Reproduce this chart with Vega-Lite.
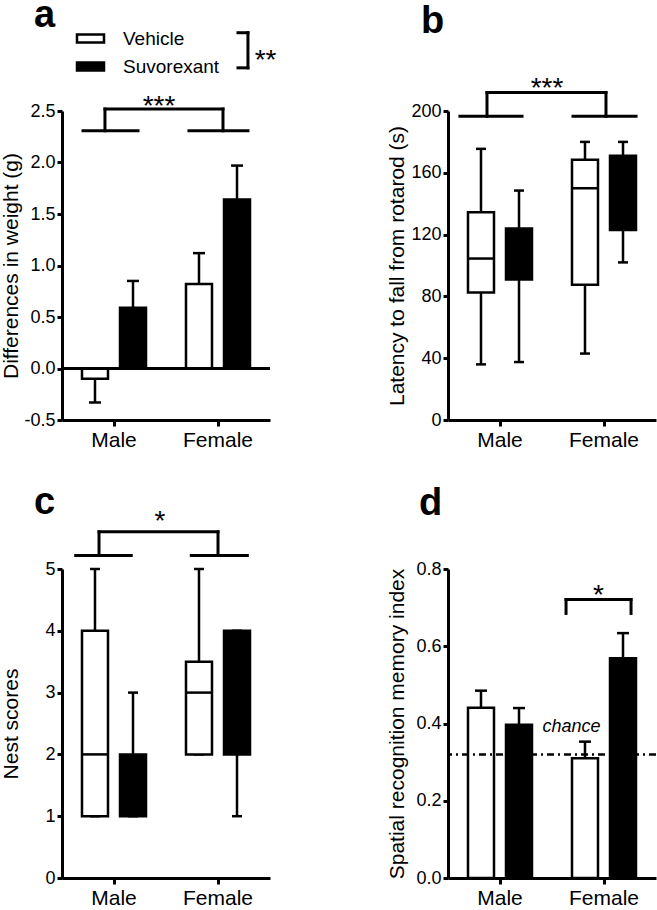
{
 "$schema": "https://vega.github.io/schema/vega-lite/v6.json",
 "autosize": {"type": "pad"},
 "padding": {"top": -3, "left": 0, "right": 0, "bottom": 0},
 "background": "white",
 "columns": 2,
 "bounds": "flush",
 "spacing": {"row": 149, "column": 178},
 "resolve": {"scale": {"fill": "independent"}, "legend": {"fill": "independent"}},
 "config": {
  "view": {"stroke": null},
  "font": "Liberation Sans",
  "axis": {"domainColor": "black", "domainWidth": 3, "tickColor": "black", "tickWidth": 3, "labelColor": "black", "titleColor": "black", "grid": false, "labelFont": "Liberation Sans", "titleFont": "Liberation Sans", "titleFontWeight": "normal", "titleFontSize": 21},
  "axisY": {"labelFontSize": 18, "tickSize": 5, "labelPadding": 2},
  "axisX": {"labelFontSize": 21, "tickSize": 6, "labelPadding": 3, "labelAngle": 0},
  "text": {"font": "Liberation Sans", "color": "black"},
  "rule": {"color": "black"},
  "tick": {"color": "black", "opacity": 1},
  "bar": {"opacity": 1}
 },
 "concat": [
  {
   "width": 208, "height": 309,
   "resolve": {"scale": {"x": "independent"}, "axis": {"x": "independent"}},
   "layer": [
    {
     "data": {"values": [
      {"sex": "Male", "treatment": "Vehicle", "mean": -0.1, "errorEnd": -0.33},
      {"sex": "Male", "treatment": "Suvorexant", "mean": 0.59, "errorEnd": 0.85},
      {"sex": "Female", "treatment": "Vehicle", "mean": 0.82, "errorEnd": 1.12},
      {"sex": "Female", "treatment": "Suvorexant", "mean": 1.64, "errorEnd": 1.97}
     ]},
     "layer": [
      {"mark": {"type": "rule", "strokeWidth": 2.5},
       "encoding": {
        "x": {"field": "sex", "type": "nominal", "sort": ["Male", "Female"], "scale": {"paddingInner": 0, "paddingOuter": 0}, "axis": {"title": null}},
        "xOffset": {"field": "treatment", "type": "nominal", "sort": ["Vehicle", "Suvorexant"], "scale": {"paddingInner": 0.316, "paddingOuter": 0.526}},
        "y": {"field": "mean", "type": "quantitative", "scale": {"domain": [-0.5, 2.5], "nice": false, "zero": false},
              "axis": {"title": "Differences in weight (g)", "values": [-0.5, 0, 0.5, 1, 1.5, 2, 2.5], "labelExpr": "replace(format(datum.value,'.1f'),'−','-')", "titleX": -45, "titleY": 154.5, "titleBaseline": "alphabetic", "titleAngle": 270}},
        "y2": {"field": "errorEnd"}
       }},
      {"mark": {"type": "bar", "stroke": "black", "strokeWidth": 2.5},
       "encoding": {
        "x": {"field": "sex", "type": "nominal", "sort": ["Male", "Female"], "scale": {"paddingInner": 0, "paddingOuter": 0}, "axis": {"title": null}},
        "xOffset": {"field": "treatment", "type": "nominal", "sort": ["Vehicle", "Suvorexant"], "scale": {"paddingInner": 0.316, "paddingOuter": 0.526}},
        "y": {"field": "mean", "type": "quantitative"},
        "fill": {"field": "treatment", "type": "nominal", "scale": {"domain": ["Vehicle", "Suvorexant"], "range": ["white", "black"]},
                 "legend": {"orient": "none", "legendX": 17, "legendY": -84, "title": null, "labelFontSize": 19, "labelColor": "black", "labelFont": "Liberation Sans", "symbolType": "M-1.35,-0.4H1.35V0.4H-1.35Z", "symbolSize": 400, "symbolStrokeColor": "black", "symbolStrokeWidth": 2.5, "rowPadding": 6, "labelOffset": 21, "padding": 0}}
       }},
      {"mark": {"type": "tick", "size": 12, "thickness": 2.5},
       "encoding": {
        "x": {"field": "sex", "type": "nominal", "sort": ["Male", "Female"], "scale": {"paddingInner": 0, "paddingOuter": 0}, "axis": {"title": null}},
        "xOffset": {"field": "treatment", "type": "nominal", "sort": ["Vehicle", "Suvorexant"], "scale": {"paddingInner": 0.316, "paddingOuter": 0.526}},
        "y": {"field": "errorEnd", "type": "quantitative"}
       }}
     ]
    },
    {"data": {"values": [{}]}, "mark": {"type": "rule", "strokeWidth": 3}, "encoding": {"y": {"datum": 0}}},
    {
     "data": {"values": [
      {"kind": "line", "x": 0.702, "x2": 1.231, "y": 2.308, "y2": 2.308},
      {"kind": "line", "x": 1.721, "x2": 2.288, "y": 2.308, "y2": 2.308},
      {"kind": "line", "x": 0.913, "x2": 2.048, "y": 2.519, "y2": 2.519},
      {"kind": "line", "x": 0.913, "x2": 0.913, "y": 2.308, "y2": 2.519},
      {"kind": "line", "x": 2.048, "x2": 2.048, "y": 2.308, "y2": 2.519},
      {"kind": "line", "x": 2.192, "x2": 2.288, "y": 3.26, "y2": 3.26},
      {"kind": "line", "x": 2.192, "x2": 2.288, "y": 2.919, "y2": 2.919},
      {"kind": "line", "x": 2.288, "x2": 2.288, "y": 2.919, "y2": 3.26},
      {"kind": "letter", "x": 0.23, "y": 3.313, "label": "a"},
      {"kind": "sig", "x": 1.433, "y": 2.461, "label": "***"},
      {"kind": "sig", "x": 2.457, "y": 2.909, "label": "**"}
     ]},
     "layer": [
      {"transform": [{"filter": "datum.kind === 'line'"}],
       "mark": {"type": "rule", "strokeWidth": 3, "strokeCap": "square"},
       "encoding": {
        "x": {"field": "x", "type": "quantitative", "scale": {"domain": [0.5, 2.5], "nice": false, "zero": false}, "axis": null},
        "x2": {"field": "x2"},
        "y": {"field": "y", "type": "quantitative"},
        "y2": {"field": "y2"}
       }},
      {"transform": [{"filter": "datum.kind === 'letter'"}],
       "mark": {"type": "text", "fontSize": 38, "fontWeight": "bold", "align": "left", "baseline": "alphabetic"},
       "encoding": {
        "x": {"field": "x", "type": "quantitative", "scale": {"domain": [0.5, 2.5], "nice": false, "zero": false}, "axis": null},
        "y": {"field": "y", "type": "quantitative"},
        "text": {"field": "label"}
       }},
      {"transform": [{"filter": "datum.kind === 'sig'"}],
       "mark": {"type": "text", "fontSize": 28, "align": "center", "baseline": "alphabetic"},
       "encoding": {
        "x": {"field": "x", "type": "quantitative", "scale": {"domain": [0.5, 2.5], "nice": false, "zero": false}, "axis": null},
        "y": {"field": "y", "type": "quantitative"},
        "text": {"field": "label"}
       }}
     ]
    }
   ]
  },
  {
   "width": 208, "height": 309,
   "resolve": {"scale": {"x": "independent"}, "axis": {"x": "independent"}},
   "layer": [
    {
     "data": {"values": [
      {"sex": "Male", "treatment": "Vehicle", "min": 36, "q1": 82.5, "median": 104.5, "q3": 134.5, "max": 175.5},
      {"sex": "Male", "treatment": "Suvorexant", "min": 37.5, "q1": 91, "median": null, "q3": 124, "max": 148.5},
      {"sex": "Female", "treatment": "Vehicle", "min": 43, "q1": 87.5, "median": 150, "q3": 168.5, "max": 180},
      {"sex": "Female", "treatment": "Suvorexant", "min": 102, "q1": 123, "median": null, "q3": 171, "max": 180}
     ]},
     "layer": [
      {"mark": {"type": "rule", "strokeWidth": 2.5},
       "encoding": {
        "x": {"field": "sex", "type": "nominal", "sort": ["Male", "Female"], "scale": {"paddingInner": 0, "paddingOuter": 0}, "axis": {"title": null}},
        "xOffset": {"field": "treatment", "type": "nominal", "sort": ["Vehicle", "Suvorexant"], "scale": {"paddingInner": 0.316, "paddingOuter": 0.526}},
        "y": {"field": "min", "type": "quantitative", "scale": {"domain": [0, 200], "nice": false, "zero": false},
              "axis": {"title": "Latency to fall from rotarod (s)", "values": [0, 40, 80, 120, 160, 200], "format": "d", "titleX": -45, "titleY": 154.5, "titleBaseline": "alphabetic", "titleAngle": 270}},
        "y2": {"field": "q1"}
       }},
      {"mark": {"type": "rule", "strokeWidth": 2.5},
       "encoding": {
        "x": {"field": "sex", "type": "nominal", "sort": ["Male", "Female"], "scale": {"paddingInner": 0, "paddingOuter": 0}, "axis": {"title": null}},
        "xOffset": {"field": "treatment", "type": "nominal", "sort": ["Vehicle", "Suvorexant"], "scale": {"paddingInner": 0.316, "paddingOuter": 0.526}},
        "y": {"field": "q3", "type": "quantitative"},
        "y2": {"field": "max"}
       }},
      {"mark": {"type": "tick", "size": 10, "thickness": 2.5},
       "encoding": {
        "x": {"field": "sex", "type": "nominal", "sort": ["Male", "Female"], "scale": {"paddingInner": 0, "paddingOuter": 0}, "axis": {"title": null}},
        "xOffset": {"field": "treatment", "type": "nominal", "sort": ["Vehicle", "Suvorexant"], "scale": {"paddingInner": 0.316, "paddingOuter": 0.526}},
        "y": {"field": "min", "type": "quantitative"}
       }},
      {"mark": {"type": "tick", "size": 10, "thickness": 2.5},
       "encoding": {
        "x": {"field": "sex", "type": "nominal", "sort": ["Male", "Female"], "scale": {"paddingInner": 0, "paddingOuter": 0}, "axis": {"title": null}},
        "xOffset": {"field": "treatment", "type": "nominal", "sort": ["Vehicle", "Suvorexant"], "scale": {"paddingInner": 0.316, "paddingOuter": 0.526}},
        "y": {"field": "max", "type": "quantitative"}
       }},
      {"mark": {"type": "bar", "stroke": "black", "strokeWidth": 2.5},
       "encoding": {
        "x": {"field": "sex", "type": "nominal", "sort": ["Male", "Female"], "scale": {"paddingInner": 0, "paddingOuter": 0}, "axis": {"title": null}},
        "xOffset": {"field": "treatment", "type": "nominal", "sort": ["Vehicle", "Suvorexant"], "scale": {"paddingInner": 0.316, "paddingOuter": 0.526}},
        "y": {"field": "q1", "type": "quantitative"},
        "y2": {"field": "q3"},
        "fill": {"field": "treatment", "type": "nominal", "scale": {"domain": ["Vehicle", "Suvorexant"], "range": ["white", "black"]}, "legend": null}
       }},
      {"mark": {"type": "tick", "size": 26, "thickness": 2.5},
       "encoding": {
        "x": {"field": "sex", "type": "nominal", "sort": ["Male", "Female"], "scale": {"paddingInner": 0, "paddingOuter": 0}, "axis": {"title": null}},
        "xOffset": {"field": "treatment", "type": "nominal", "sort": ["Vehicle", "Suvorexant"], "scale": {"paddingInner": 0.316, "paddingOuter": 0.526}},
        "y": {"field": "median", "type": "quantitative"}
       }}
     ]
    },
    {
     "data": {"values": [
      {"kind": "line", "x": 0.615, "x2": 1.212, "y": 196.6, "y2": 196.6},
      {"kind": "line", "x": 1.702, "x2": 2.308, "y": 196.6, "y2": 196.6},
      {"kind": "line", "x": 0.875, "x2": 2.019, "y": 212, "y2": 212},
      {"kind": "line", "x": 0.875, "x2": 0.875, "y": 196.6, "y2": 212},
      {"kind": "line", "x": 2.019, "x2": 2.019, "y": 196.6, "y2": 212},
      {"kind": "letter", "x": 0.24, "y": 250.6, "label": "b"},
      {"kind": "sig", "x": 1.452, "y": 209.2, "label": "***"}
     ]},
     "layer": [
      {"transform": [{"filter": "datum.kind === 'line'"}],
       "mark": {"type": "rule", "strokeWidth": 3, "strokeCap": "square"},
       "encoding": {
        "x": {"field": "x", "type": "quantitative", "scale": {"domain": [0.5, 2.5], "nice": false, "zero": false}, "axis": null},
        "x2": {"field": "x2"},
        "y": {"field": "y", "type": "quantitative"},
        "y2": {"field": "y2"}
       }},
      {"transform": [{"filter": "datum.kind === 'letter'"}],
       "mark": {"type": "text", "fontSize": 38, "fontWeight": "bold", "align": "left", "baseline": "alphabetic"},
       "encoding": {
        "x": {"field": "x", "type": "quantitative", "scale": {"domain": [0.5, 2.5], "nice": false, "zero": false}, "axis": null},
        "y": {"field": "y", "type": "quantitative"},
        "text": {"field": "label"}
       }},
      {"transform": [{"filter": "datum.kind === 'sig'"}],
       "mark": {"type": "text", "fontSize": 28, "align": "center", "baseline": "alphabetic"},
       "encoding": {
        "x": {"field": "x", "type": "quantitative", "scale": {"domain": [0.5, 2.5], "nice": false, "zero": false}, "axis": null},
        "y": {"field": "y", "type": "quantitative"},
        "text": {"field": "label"}
       }}
     ]
    }
   ]
  },
  {
   "width": 208, "height": 309,
   "resolve": {"scale": {"x": "independent"}, "axis": {"x": "independent"}},
   "layer": [
    {
     "data": {"values": [
      {"sex": "Male", "treatment": "Vehicle", "min": 1, "q1": 1, "median": 2, "q3": 4, "max": 5},
      {"sex": "Male", "treatment": "Suvorexant", "min": 1, "q1": 1, "median": null, "q3": 2, "max": 3},
      {"sex": "Female", "treatment": "Vehicle", "min": 2, "q1": 2, "median": 3, "q3": 3.5, "max": 5},
      {"sex": "Female", "treatment": "Suvorexant", "min": 1, "q1": 2, "median": null, "q3": 4, "max": 4}
     ]},
     "layer": [
      {"mark": {"type": "rule", "strokeWidth": 2.5},
       "encoding": {
        "x": {"field": "sex", "type": "nominal", "sort": ["Male", "Female"], "scale": {"paddingInner": 0, "paddingOuter": 0}, "axis": {"title": null}},
        "xOffset": {"field": "treatment", "type": "nominal", "sort": ["Vehicle", "Suvorexant"], "scale": {"paddingInner": 0.316, "paddingOuter": 0.526}},
        "y": {"field": "min", "type": "quantitative", "scale": {"domain": [0, 5], "nice": false, "zero": false},
              "axis": {"title": "Nest scores", "values": [0, 1, 2, 3, 4, 5], "format": "d", "titleX": -45, "titleY": 154.5, "titleBaseline": "alphabetic", "titleAngle": 270}},
        "y2": {"field": "q1"}
       }},
      {"mark": {"type": "rule", "strokeWidth": 2.5},
       "encoding": {
        "x": {"field": "sex", "type": "nominal", "sort": ["Male", "Female"], "scale": {"paddingInner": 0, "paddingOuter": 0}, "axis": {"title": null}},
        "xOffset": {"field": "treatment", "type": "nominal", "sort": ["Vehicle", "Suvorexant"], "scale": {"paddingInner": 0.316, "paddingOuter": 0.526}},
        "y": {"field": "q3", "type": "quantitative"},
        "y2": {"field": "max"}
       }},
      {"mark": {"type": "tick", "size": 10, "thickness": 2.5},
       "encoding": {
        "x": {"field": "sex", "type": "nominal", "sort": ["Male", "Female"], "scale": {"paddingInner": 0, "paddingOuter": 0}, "axis": {"title": null}},
        "xOffset": {"field": "treatment", "type": "nominal", "sort": ["Vehicle", "Suvorexant"], "scale": {"paddingInner": 0.316, "paddingOuter": 0.526}},
        "y": {"field": "min", "type": "quantitative"}
       }},
      {"mark": {"type": "tick", "size": 10, "thickness": 2.5},
       "encoding": {
        "x": {"field": "sex", "type": "nominal", "sort": ["Male", "Female"], "scale": {"paddingInner": 0, "paddingOuter": 0}, "axis": {"title": null}},
        "xOffset": {"field": "treatment", "type": "nominal", "sort": ["Vehicle", "Suvorexant"], "scale": {"paddingInner": 0.316, "paddingOuter": 0.526}},
        "y": {"field": "max", "type": "quantitative"}
       }},
      {"mark": {"type": "bar", "stroke": "black", "strokeWidth": 2.5},
       "encoding": {
        "x": {"field": "sex", "type": "nominal", "sort": ["Male", "Female"], "scale": {"paddingInner": 0, "paddingOuter": 0}, "axis": {"title": null}},
        "xOffset": {"field": "treatment", "type": "nominal", "sort": ["Vehicle", "Suvorexant"], "scale": {"paddingInner": 0.316, "paddingOuter": 0.526}},
        "y": {"field": "q1", "type": "quantitative"},
        "y2": {"field": "q3"},
        "fill": {"field": "treatment", "type": "nominal", "scale": {"domain": ["Vehicle", "Suvorexant"], "range": ["white", "black"]}, "legend": null}
       }},
      {"mark": {"type": "tick", "size": 26, "thickness": 2.5},
       "encoding": {
        "x": {"field": "sex", "type": "nominal", "sort": ["Male", "Female"], "scale": {"paddingInner": 0, "paddingOuter": 0}, "axis": {"title": null}},
        "xOffset": {"field": "treatment", "type": "nominal", "sort": ["Vehicle", "Suvorexant"], "scale": {"paddingInner": 0.316, "paddingOuter": 0.526}},
        "y": {"field": "median", "type": "quantitative"}
       }}
     ]
    },
    {
     "data": {"values": [
      {"kind": "line", "x": 0.632, "x2": 1.166, "y": 5.22, "y2": 5.22},
      {"kind": "line", "x": 1.743, "x2": 2.282, "y": 5.22, "y2": 5.22},
      {"kind": "line", "x": 0.856, "x2": 2.0, "y": 5.602, "y2": 5.602},
      {"kind": "line", "x": 0.856, "x2": 0.856, "y": 5.22, "y2": 5.602},
      {"kind": "line", "x": 2.0, "x2": 2.0, "y": 5.22, "y2": 5.602},
      {"kind": "letter", "x": 0.231, "y": 5.887, "label": "c"},
      {"kind": "sig", "x": 1.442, "y": 5.63, "label": "*"}
     ]},
     "layer": [
      {"transform": [{"filter": "datum.kind === 'line'"}],
       "mark": {"type": "rule", "strokeWidth": 3, "strokeCap": "square"},
       "encoding": {
        "x": {"field": "x", "type": "quantitative", "scale": {"domain": [0.5, 2.5], "nice": false, "zero": false}, "axis": null},
        "x2": {"field": "x2"},
        "y": {"field": "y", "type": "quantitative"},
        "y2": {"field": "y2"}
       }},
      {"transform": [{"filter": "datum.kind === 'letter'"}],
       "mark": {"type": "text", "fontSize": 38, "fontWeight": "bold", "align": "left", "baseline": "alphabetic"},
       "encoding": {
        "x": {"field": "x", "type": "quantitative", "scale": {"domain": [0.5, 2.5], "nice": false, "zero": false}, "axis": null},
        "y": {"field": "y", "type": "quantitative"},
        "text": {"field": "label"}
       }},
      {"transform": [{"filter": "datum.kind === 'sig'"}],
       "mark": {"type": "text", "fontSize": 28, "align": "center", "baseline": "alphabetic"},
       "encoding": {
        "x": {"field": "x", "type": "quantitative", "scale": {"domain": [0.5, 2.5], "nice": false, "zero": false}, "axis": null},
        "y": {"field": "y", "type": "quantitative"},
        "text": {"field": "label"}
       }}
     ]
    }
   ]
  },
  {
   "width": 208, "height": 309,
   "resolve": {"scale": {"x": "independent"}, "axis": {"x": "independent"}},
   "layer": [
    {
     "data": {"values": [
      {"sex": "Male", "treatment": "Vehicle", "mean": 0.441, "errorEnd": 0.485},
      {"sex": "Male", "treatment": "Suvorexant", "mean": 0.397, "errorEnd": 0.44},
      {"sex": "Female", "treatment": "Vehicle", "mean": 0.31, "errorEnd": 0.353},
      {"sex": "Female", "treatment": "Suvorexant", "mean": 0.569, "errorEnd": 0.634}
     ]},
     "layer": [
      {"mark": {"type": "rule", "strokeWidth": 2.5},
       "encoding": {
        "x": {"field": "sex", "type": "nominal", "sort": ["Male", "Female"], "scale": {"paddingInner": 0, "paddingOuter": 0}, "axis": {"title": null}},
        "xOffset": {"field": "treatment", "type": "nominal", "sort": ["Vehicle", "Suvorexant"], "scale": {"paddingInner": 0.316, "paddingOuter": 0.526}},
        "y": {"field": "mean", "type": "quantitative", "scale": {"domain": [0, 0.8], "nice": false, "zero": false},
              "axis": {"title": "Spatial recognition memory index", "values": [0, 0.2, 0.4, 0.6, 0.8], "format": ".1f", "titleX": -45, "titleY": 154.5, "titleBaseline": "alphabetic", "titleAngle": 270}},
        "y2": {"field": "errorEnd"}
       }},
      {"mark": {"type": "bar", "stroke": "black", "strokeWidth": 2.5},
       "encoding": {
        "x": {"field": "sex", "type": "nominal", "sort": ["Male", "Female"], "scale": {"paddingInner": 0, "paddingOuter": 0}, "axis": {"title": null}},
        "xOffset": {"field": "treatment", "type": "nominal", "sort": ["Vehicle", "Suvorexant"], "scale": {"paddingInner": 0.316, "paddingOuter": 0.526}},
        "y": {"field": "mean", "type": "quantitative"},
        "fill": {"field": "treatment", "type": "nominal", "scale": {"domain": ["Vehicle", "Suvorexant"], "range": ["white", "black"]}, "legend": null}
       }},
      {"mark": {"type": "tick", "size": 12, "thickness": 2.5},
       "encoding": {
        "x": {"field": "sex", "type": "nominal", "sort": ["Male", "Female"], "scale": {"paddingInner": 0, "paddingOuter": 0}, "axis": {"title": null}},
        "xOffset": {"field": "treatment", "type": "nominal", "sort": ["Vehicle", "Suvorexant"], "scale": {"paddingInner": 0.316, "paddingOuter": 0.526}},
        "y": {"field": "errorEnd", "type": "quantitative"}
       }}
     ]
    },
    {"data": {"values": [{}]}, "mark": {"type": "rule", "strokeWidth": 2.5, "strokeDash": [7, 4, 2, 4]}, "encoding": {"y": {"datum": 0.32}}},
    {
     "data": {"values": [
      {"kind": "line", "x": 1.635, "x2": 2.26, "y": 0.721, "y2": 0.721},
      {"kind": "line", "x": 1.635, "x2": 1.635, "y": 0.685, "y2": 0.721},
      {"kind": "line", "x": 2.26, "x2": 2.26, "y": 0.685, "y2": 0.721},
      {"kind": "letter", "x": 0.221, "y": 0.939, "label": "d"},
      {"kind": "sig", "x": 1.947, "y": 0.71, "label": "*"},
      {"kind": "note", "x": 1.688, "y": 0.377, "label": "chance"}
     ]},
     "layer": [
      {"transform": [{"filter": "datum.kind === 'line'"}],
       "mark": {"type": "rule", "strokeWidth": 3, "strokeCap": "square"},
       "encoding": {
        "x": {"field": "x", "type": "quantitative", "scale": {"domain": [0.5, 2.5], "nice": false, "zero": false}, "axis": null},
        "x2": {"field": "x2"},
        "y": {"field": "y", "type": "quantitative"},
        "y2": {"field": "y2"}
       }},
      {"transform": [{"filter": "datum.kind === 'letter'"}],
       "mark": {"type": "text", "fontSize": 38, "fontWeight": "bold", "align": "left", "baseline": "alphabetic"},
       "encoding": {
        "x": {"field": "x", "type": "quantitative", "scale": {"domain": [0.5, 2.5], "nice": false, "zero": false}, "axis": null},
        "y": {"field": "y", "type": "quantitative"},
        "text": {"field": "label"}
       }},
      {"transform": [{"filter": "datum.kind === 'sig'"}],
       "mark": {"type": "text", "fontSize": 28, "align": "center", "baseline": "alphabetic"},
       "encoding": {
        "x": {"field": "x", "type": "quantitative", "scale": {"domain": [0.5, 2.5], "nice": false, "zero": false}, "axis": null},
        "y": {"field": "y", "type": "quantitative"},
        "text": {"field": "label"}
       }},
      {"transform": [{"filter": "datum.kind === 'note'"}],
       "mark": {"type": "text", "fontSize": 18, "fontStyle": "italic", "align": "center", "baseline": "alphabetic"},
       "encoding": {
        "x": {"field": "x", "type": "quantitative", "scale": {"domain": [0.5, 2.5], "nice": false, "zero": false}, "axis": null},
        "y": {"field": "y", "type": "quantitative"},
        "text": {"field": "label"}
       }}
     ]
    }
   ]
  }
 ]
}
